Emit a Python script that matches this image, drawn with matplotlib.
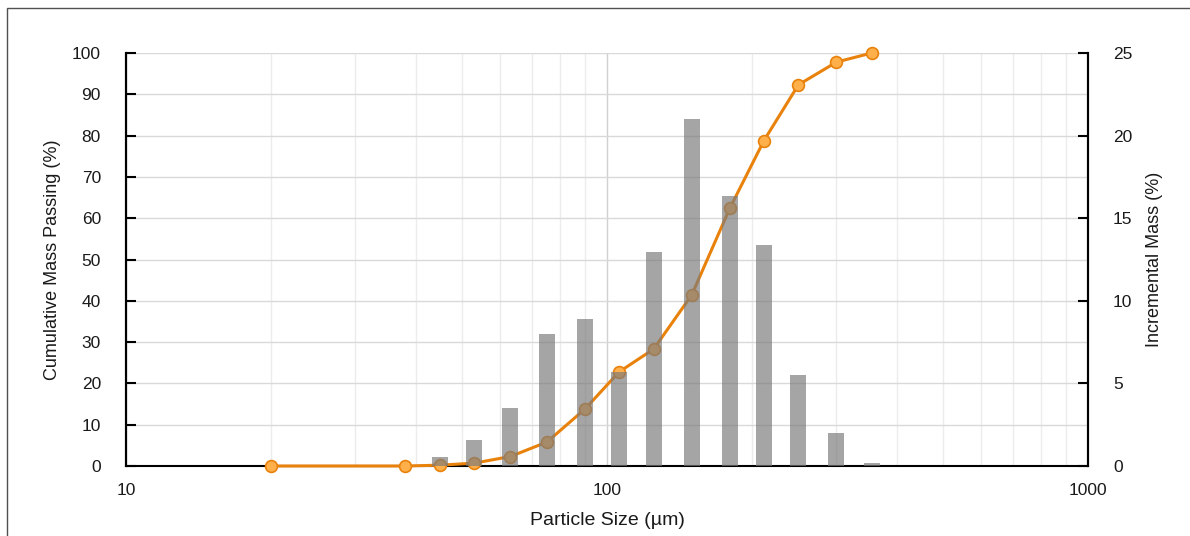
#!/usr/bin/env python3

import matplotlib
matplotlib.use("Agg")
import matplotlib.pyplot as plt
from matplotlib.ticker import FixedLocator, NullFormatter, FixedFormatter
from matplotlib.patches import Rectangle
import numpy as np

plt.rcParams['font.family'] = ['Liberation Sans', 'DejaVu Sans']

# sieve sizes (um) and cumulative passing (%)
sizes = [20, 38, 45, 53, 63, 75, 90, 106, 125, 150, 180, 212, 250, 300, 355]
cum_passing = [0.0, 0.0, 0.2, 0.7, 2.3, 5.8, 13.8, 22.8, 28.3, 41.4, 62.4, 78.8, 92.3, 97.8, 100.0]

# incremental mass (%) for each bar
bar_sizes = [45, 53, 63, 75, 90, 106, 125, 150, 180, 212, 250, 300, 355]
incr_mass = [0.56, 1.57, 3.49, 7.99, 8.88, 5.7, 12.97, 20.98, 16.34, 13.38, 5.5, 2.02, 0.16]

x_ticks = [10, 100, 1000]
x_tick_labels = ["10", "100", "1000"]

fig = plt.figure(figsize=(11.9, 5.36), dpi=100)
ax = fig.add_axes([126/1190, 70/536, (1088-126)/1190, (466-53)/536])
ax2 = ax.twinx()

# grid on the main axis
ax.set_xscale("log")
ax.set_xlim(10, 1000)
ax.set_ylim(0, 100)
ax.set_yticks(np.arange(0, 101, 10))
ax.xaxis.set_major_locator(FixedLocator(x_ticks))
ax.xaxis.set_major_formatter(FixedFormatter(x_tick_labels))
minor = [m * d for d in (10, 100) for m in range(2, 10)]
ax.xaxis.set_minor_locator(FixedLocator(minor))
ax.xaxis.set_minor_formatter(NullFormatter())
ax.grid(True, which="major", axis="y", color="#d9d9d9", lw=1)
ax.grid(True, which="major", axis="x", color="#d0d0d0", lw=1)
ax.grid(True, which="minor", axis="x", color="#ececec", lw=1)
ax.set_axisbelow(True)

ax.plot(sizes, cum_passing, color="#E8820C", lw=2.2, marker="o", ms=8.5,
        mfc="#FFB04A", mec="#E8820C", mew=1.2, zorder=5, clip_on=False)

# bars: constant width in log space
half = 10 ** (16 / 481 / 2)
lefts = [s / half for s in bar_sizes]
widths = [s * half - s / half for s in bar_sizes]
ax2.bar(lefts, incr_mass, width=widths, align="edge", color="#7a7a7a", alpha=0.68,
        zorder=3)
ax2.set_ylim(0, 25)
ax2.set_yticks([0, 5, 10, 15, 20, 25])
ax2.set_xlim(10, 1000)

for a in (ax, ax2):
    a.spines["top"].set_visible(False)
    for s in ("left", "right", "bottom"):
        a.spines[s].set_linewidth(1.5)
        a.spines[s].set_color("black")
ax2.spines["bottom"].set_visible(False)

tc = "#1a1a1a"
ax.tick_params(axis="y", direction="in", length=7, width=1.5, pad=18,
               labelsize=12.5, labelcolor=tc)
ax2.tick_params(axis="y", direction="in", length=7, width=1.5, pad=18,
                labelsize=12.5, labelcolor=tc)
ax.tick_params(axis="x", which="both", length=0, pad=12, labelsize=12.5,
               labelcolor=tc)

ax.set_ylabel("Cumulative Mass Passing (%)", fontsize=13, labelpad=8, color=tc)
ax2.set_ylabel("Incremental Mass (%)", fontsize=13, labelpad=10, color=tc)
ax.set_xlabel("Particle Size (\u00b5m)", fontsize=14, labelpad=10, color=tc)

fig.patches.append(Rectangle((7/1190, -0.1), 1.2, 1.1 - 8/536,
                             transform=fig.transFigure, fill=False,
                             edgecolor="#505050", lw=1))

fig.savefig("out.png", dpi=100)
